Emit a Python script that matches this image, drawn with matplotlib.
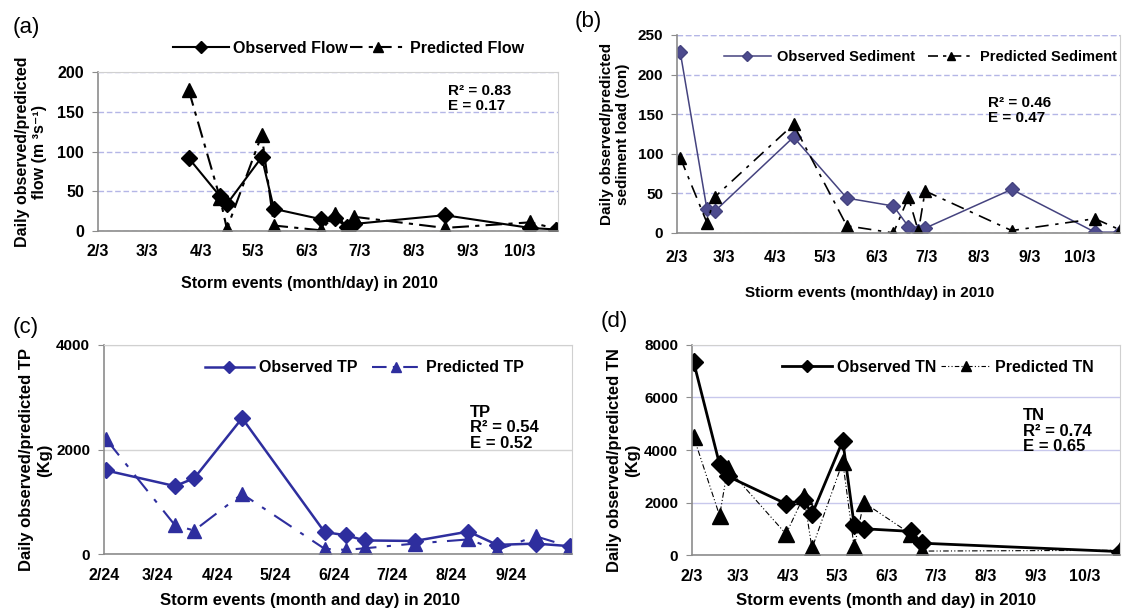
import pandas as pd
import matplotlib
matplotlib.use("Agg")
import matplotlib.pyplot as plt
from matplotlib.lines import Line2D

plt.rcParams['font.family'] = ['Liberation Sans', 'DejaVu Sans']
plt.rcParams['font.weight'] = 'bold'

# (a) flow
flow_dates = ["03-27", "04-14", "04-18", "05-08", "05-15", "06-11", "06-19",
              "06-26", "06-30", "08-21", "10-09", "10-24"]
flow_obs = [92, 44, 34, 93, 28, 15, 16, 5, 9, 20, 4, 2]
flow_pred = [178, 42, 3, 121, 7, 1, 21, 5, 18, 4, 11, 3]

# (b) sediment
sed_dates = ["02-05", "02-21", "02-26", "04-14", "05-16", "06-13", "06-22",
             "06-28", "07-02", "08-23", "10-12", "10-27"]
sed_obs = [228, 30, 28, 121, 44, 34, 8, 2, 6, 55, 1, 1]
sed_pred = [95, 13, 46, 137, 9, 0, 45, 2, 53, 3, 18, 4]

# (c) TP
tp_dates = ["02-25", "04-02", "04-12", "05-07", "06-19", "06-30", "07-10",
            "08-05", "09-02", "09-17", "10-07", "10-25"]
tp_obs = [1600, 1300, 1450, 2600, 420, 360, 260, 250, 430, 175, 200, 150]
tp_pred = [2200, 550, 450, 1150, 100, 80, 110, 200, 280, 80, 340, 140]

# (d) TN
tn_dates = ["02-04", "02-20", "02-25", "04-02", "04-13", "04-18", "05-07",
            "05-14", "05-20", "06-18", "06-25", "10-25"]
tn_obs = [7350, 3450, 3000, 1950, 2100, 1550, 4350, 1150, 1000, 900, 450, 130]
tn_pred = [4500, 1500, 3300, 800, 2250, 250, 3550, 300, 2000, 800, 150, 180]

ticks_month3 = ["2/3", "3/3", "4/3", "5/3", "6/3", "7/3", "8/3", "9/3", "10/3"]
ticks_month24 = ["2/24", "3/24", "4/24", "5/24", "6/24", "7/24", "8/24", "9/24"]


def to_dt(days):
    return pd.to_datetime(["2010-" + d for d in days])


def tick_dt(labels):
    return pd.to_datetime(["2010-%02d-%02d" % tuple(int(v) for v in s.split("/")) for s in labels])


fig = plt.figure(figsize=(11.26, 6.13), dpi=100)

ax_a = fig.add_axes([0.087, 0.623, 0.4085, 0.2594])
ax_b = fig.add_axes([0.6012, 0.620, 0.3934, 0.323])
ax_c = fig.add_axes([0.0924, 0.0962, 0.4156, 0.341])
ax_d = fig.add_axes([0.6146, 0.0946, 0.380, 0.3426])

LAV = "#b4b6e6"


def style(ax, ticks, lo, hi, ymax, ystep, grid_ls, grid_col, xpad=12, ysize=11.5):
    t = tick_dt(ticks)
    ax.set_xticks(t)
    ax.set_xticklabels(ticks)
    ax.set_xlim(pd.Timestamp("2010-" + lo), pd.Timestamp("2010-" + hi))
    ax.set_ylim(0, ymax)
    ax.set_yticks(range(0, ymax + 1, ystep))
    ax.yaxis.grid(True, linestyle=grid_ls, color=grid_col, linewidth=1)
    ax.set_axisbelow(True)
    for s in ("left", "bottom"):
        ax.spines[s].set_color("#8c8c8c")
        ax.spines[s].set_linewidth(1.2)
    for s in ("top", "right"):
        ax.spines[s].set_color("#d0d0d0")
    ax.tick_params(axis="x", length=0, pad=xpad, labelsize=11.5)
    ax.tick_params(axis="y", length=4, color="#8c8c8c", pad=6, labelsize=ysize)
    for lab in ax.get_xticklabels() + ax.get_yticklabels():
        lab.set_fontweight("bold")


# ---- (a)
x = to_dt(flow_dates)
ax_a.plot(x, flow_obs, color="black", lw=1.5, marker="D", ms=8, label="Observed Flow")
ax_a.plot(x, flow_pred, color="black", lw=1.5, ls=(0, (8, 3, 2, 3)), marker="^", ms=10,
          label="Predicted Flow")
style(ax_a, ticks_month3, "02-03", "10-25", 200, 50, (0, (4, 2)), LAV, xpad=9)
ax_a.set_ylabel("Daily observed/predicted\nflow (m \u00b3s\u207b\u00b9)", fontsize=11.5,
                fontweight="bold")
ax_a.yaxis.set_label_coords(-0.11, 0.5)
ax_a.set_xlabel("Storm events (month/day) in 2010", fontsize=11.5, fontweight="bold")
ax_a.xaxis.set_label_coords(0.46, -0.28)
ax_a.legend(handles=[Line2D([], [], color="black", lw=1.5, marker="D", ms=6),
                     Line2D([], [], color="black", lw=1.5, ls=(0, (6, 3, 2, 3)), marker="^", ms=7)],
            labels=["Observed Flow", "Predicted Flow"], loc="center",
            bbox_to_anchor=(0.545, 1.15), ncol=2, frameon=False,
            handlelength=3.5, handletextpad=0.3, columnspacing=0.1,
            prop={"weight": "bold", "size": 11.5})
ax_a.text(0.761, 0.925, "R\u00b2 = 0.83\nE = 0.17", transform=ax_a.transAxes, va="top",
          ha="left", fontsize=11, fontweight="bold", linespacing=1.1)
fig.text(0.011, 0.955, "(a)", fontsize=16, fontweight="normal", va="center")

# ---- (b)
x = to_dt(sed_dates)
SED = "#45437f"
ax_b.plot(x, sed_obs, color=SED, lw=1.1, marker="D", ms=7, mfc="#4d4b8e", mec=SED,
          label="Observed Sediment")
ax_b.plot(x, sed_pred, color="black", lw=1.2, ls=(0, (8, 4, 2, 4)), marker="^", ms=9,
          label="Predicted Sediment")
style(ax_b, ticks_month3, "02-03", "10-27", 250, 50, (0, (4, 2)), LAV, ysize=11)
ax_b.spines["top"].set_visible(False)
ax_b.axhline(250, color=LAV, lw=1, ls=(0, (4, 2)))
ax_b.set_ylabel("Daily observed/predicted\nsediment load (ton)", fontsize=11,
                fontweight="bold")
ax_b.yaxis.set_label_coords(-0.106, 0.5)
ax_b.set_xlabel("Stiorm events (month/day) in 2010", fontsize=11, fontweight="bold")
ax_b.xaxis.set_label_coords(0.436, -0.27)
ax_b.legend(handles=[Line2D([], [], color=SED, lw=1.1, marker="D", ms=5, mfc="#4d4b8e"),
                     Line2D([], [], color="black", lw=1.2, ls=(0, (6, 3, 2, 3)), marker="^", ms=6)],
            labels=["Observed Sediment", "Predicted Sediment"], loc="center",
            bbox_to_anchor=(0.55, 0.889), ncol=2, frameon=False,
            handlelength=3.2, handletextpad=0.4, columnspacing=0.9,
            prop={"weight": "bold", "size": 10.5})
ax_b.text(0.702, 0.69, "R\u00b2 = 0.46\nE = 0.47", transform=ax_b.transAxes, va="top",
          ha="left", fontsize=11, fontweight="bold", linespacing=1.1)
fig.text(0.51, 0.965, "(b)", fontsize=16, fontweight="normal", va="center")

# ---- (c)
x = to_dt(tp_dates)
TP = "#2e2e9e"
ax_c.plot(x, tp_obs, color=TP, lw=1.8, marker="D", ms=8, label="Observed TP")
ax_c.plot(x, tp_pred, color=TP, lw=1.5, ls=(0, (10, 5, 2, 5)), marker="^", ms=10,
          label="Predicted TP")
style(ax_c, ticks_month24, "02-24", "10-26", 4000, 2000, "-", "#d4d4d4", xpad=10, ysize=11)
ax_c.set_ylabel("Daily observed/predicted TP\n(Kg)", fontsize=12, fontweight="bold")
ax_c.yaxis.set_label_coords(-0.112, 0.45)
ax_c.set_xlabel("Storm events (month and day) in 2010", fontsize=12, fontweight="bold")
ax_c.xaxis.set_label_coords(0.44, -0.185)
ax_c.legend(handles=[Line2D([], [], color=TP, lw=1.8, marker="D", ms=6),
                     Line2D([], [], color=TP, lw=1.5, ls=(0, (7, 3, 2, 3)), marker="^", ms=7)],
            labels=["Observed TP", "Predicted TP"], loc="center",
            bbox_to_anchor=(0.556, 0.89), ncol=2, frameon=False,
            handlelength=3.1, handletextpad=0.3, columnspacing=0.9,
            prop={"weight": "bold", "size": 11.5})
ax_c.text(0.782, 0.715, "TP\nR\u00b2 = 0.54\nE = 0.52", transform=ax_c.transAxes, va="top",
          ha="left", fontsize=12, fontweight="bold", linespacing=1.05)
fig.text(0.011, 0.465, "(c)", fontsize=16, fontweight="normal", va="center")

# ---- (d)
x = to_dt(tn_dates)
ax_d.plot(x, tn_obs, color="black", lw=2, marker="D", ms=9, label="Observed TN")
ax_d.plot(x, tn_pred, color="black", lw=0.8, ls=(0, (5, 2, 1, 2, 1, 2)), marker="^", ms=11,
          label="Predicted TN")
style(ax_d, ticks_month3, "02-03", "10-25", 8000, 2000, "-", "#c8c8ec", xpad=10, ysize=11)
ax_d.set_ylabel("Daily observed/predicted TN\n(Kg)", fontsize=12, fontweight="bold")
ax_d.yaxis.set_label_coords(-0.122, 0.45)
ax_d.set_xlabel("Storm events (month and day) in 2010", fontsize=12, fontweight="bold")
ax_d.xaxis.set_label_coords(0.453, -0.18)
ax_d.legend(handles=[Line2D([], [], color="black", lw=2, marker="D", ms=6),
                     Line2D([], [], color="black", lw=0.8, ls=(0, (4, 2, 1, 2, 1, 2)), marker="^", ms=7)],
            labels=["Observed TN", "Predicted TN"], loc="center",
            bbox_to_anchor=(0.575, 0.895), ncol=2, frameon=False,
            handlelength=3.1, handletextpad=0.3, columnspacing=0.3,
            prop={"weight": "bold", "size": 11.5})
ax_d.text(0.773, 0.70, "TN\nR\u00b2 = 0.74\nE = 0.65", transform=ax_d.transAxes, va="top",
          ha="left", fontsize=12, fontweight="bold", linespacing=1.05)
fig.text(0.533, 0.475, "(d)", fontsize=16, fontweight="normal", va="center")

fig.savefig("out.png", dpi=100, facecolor="white")
